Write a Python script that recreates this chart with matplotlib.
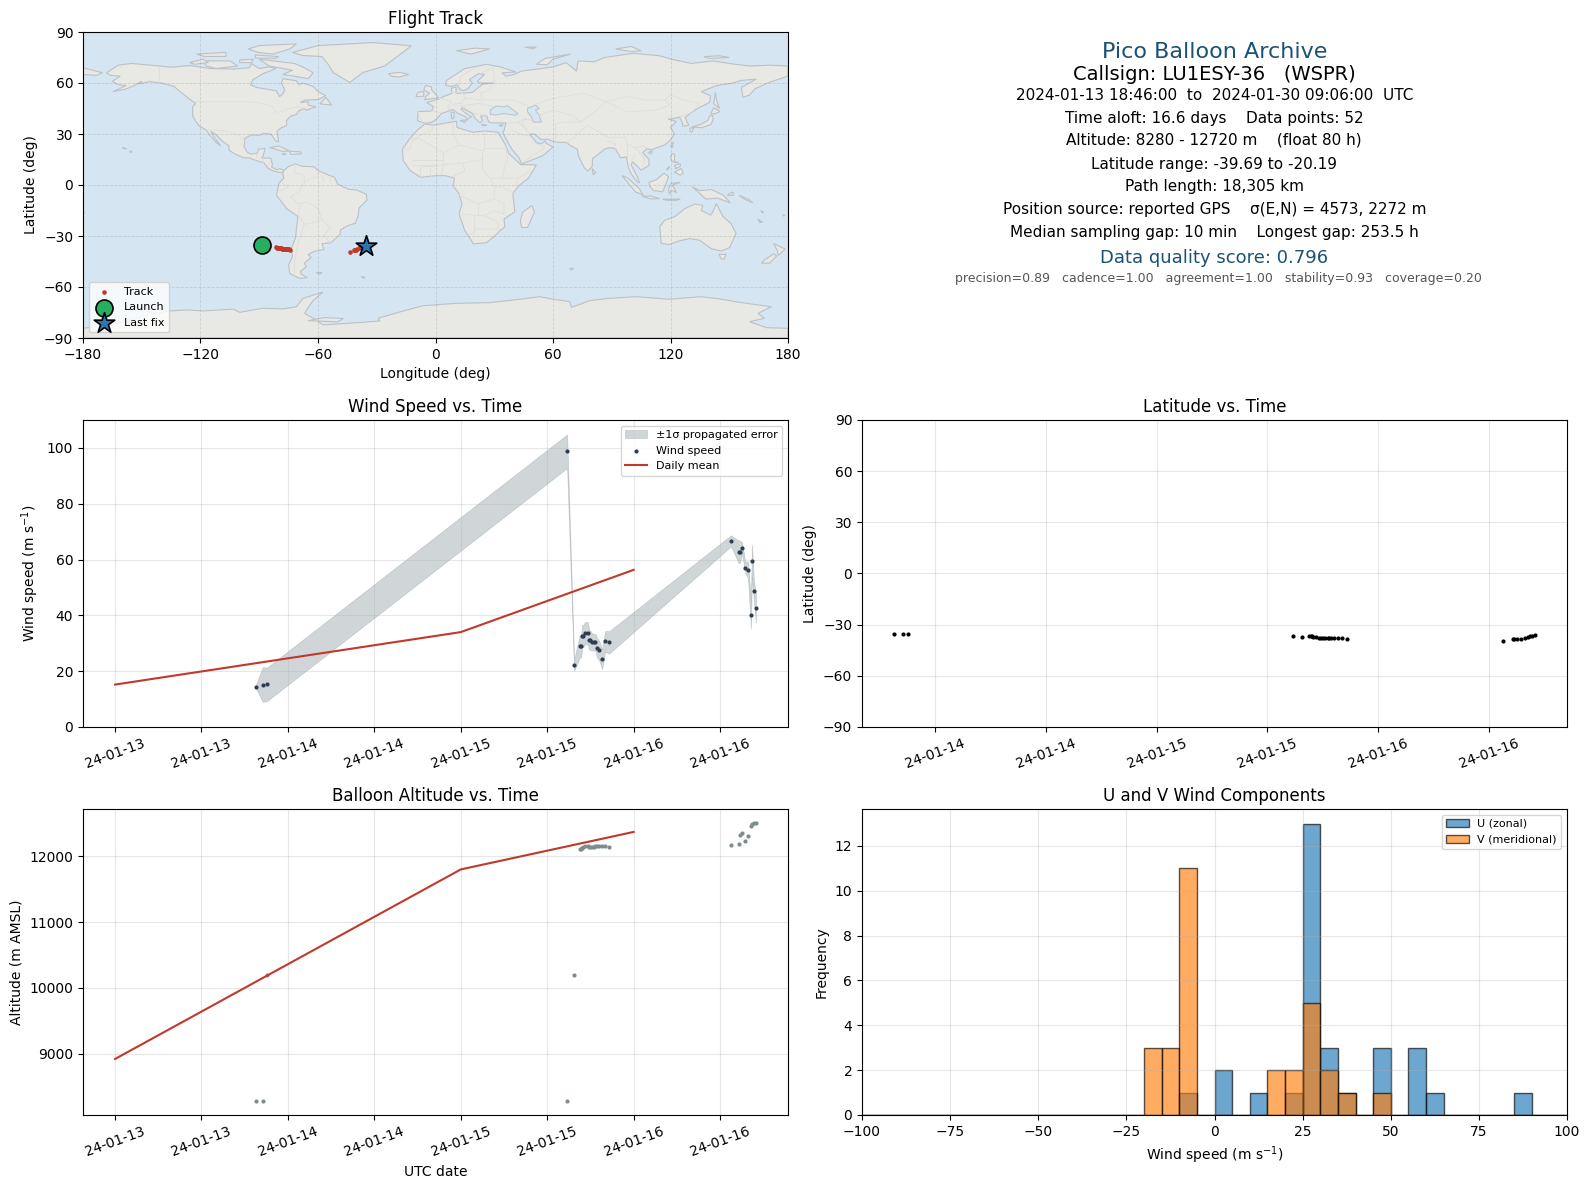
import datetime as dt
import matplotlib
matplotlib.use("Agg")
import matplotlib.pyplot as plt
import matplotlib.dates as mdates
from matplotlib.patches import Polygon

# ---- flight data ----
hours = [19.55, 20.5, 21.1,
         62.77, 63.74, 64.53, 64.72, 64.85, 64.99, 65.27, 65.64, 65.83, 66.0, 66.24, 66.56, 66.7, 66.93, 67.21, 67.63, 68.04, 68.6,
         85.52, 86.58, 86.77, 87.05, 87.51, 87.88, 88.29, 88.43, 88.71, 88.99]
wind = [14.5, 15.2, 15.3,
        98.8, 22.1, 28.9, 28.9, 32.5, 32.6, 33.6, 33.7, 31.2, 31.1, 30.5, 30.3, 30.3, 28.3, 27.5, 24.3, 30.7, 30.3,
        66.7, 62.8, 62.8, 64.2, 57.1, 56.4, 40.3, 59.6, 48.9, 42.5]
wind_err = [0.5, 6.2, 6.0,
            6.0, 2.0, 4.0, 4.0, 4.0, 4.0, 4.0, 4.0, 3.5, 3.5, 3.0, 3.0, 3.0, 3.5, 3.5, 3.6, 3.7, 4.0,
            2.0, 4.0, 4.0, 2.0, 2.0, 3.0, 5.0, 5.8, 3.5, 5.0]
altitude = [8280, 8280, 10200,
            8280, 10200, 12106, 12117, 12127, 12137, 12152, 12152, 12142, 12137, 12140, 12147, 12150, 12150, 12150, 12150, 12150, 12135,
            12177, 12193, 12319, 12360, 12238, 12314, 12456, 12487, 12507, 12507]
lat = [-35.3, -35.5, -35.4,
       -36.4, -37.0, -36.8, -36.8, -36.9, -37.0, -37.2, -37.6, -37.7, -37.8, -37.8, -37.8, -37.8, -37.7, -37.7, -37.7, -37.6, -38.2,
       -39.4, -38.4, -38.4, -38.4, -38.2, -37.8, -37.0, -36.4, -36.4, -35.9]
lon = [-88.8, -87.9, -87.0,
       -81.6, -81.0, -80.2, -79.8, -79.5, -79.1, -78.7, -78.3, -78.0, -77.6, -77.2, -76.8, -76.4, -76.0, -75.7, -75.3, -74.9, -74.2,
       -43.5, -41.5, -41.2, -41.0, -40.6, -40.0, -39.3, -38.6, -37.8, -35.5]

mean_hours = [0, 48, 72]
wind_mean = [15.2, 34.0, 56.3]
alt_mean = [8920, 11800, 12370]

bin_edges = list(range(-100, 105, 5))
u_counts = {-10: 1, 0: 2, 10: 1, 20: 1, 25: 13, 30: 3, 35: 1, 45: 3, 55: 3, 60: 1, 85: 1}
v_counts = {-20: 3, -15: 3, -10: 11, 15: 2, 20: 2, 25: 5, 30: 2, 35: 1, 45: 1}

info_lines = [
    ("Pico Balloon Archive", 16, "#1a5276", 1214.5, 52),
    ("Callsign: LU1ESY-36   (WSPR)", 14, "black", 1214.5, 74),
    ("2024-01-13 18:46:00  to  2024-01-30 09:06:00  UTC", 11, "black", 1214.5, 96),
    ("Time aloft: 16.6 days    Data points: 52", 11, "black", 1214.5, 118),
    ("Altitude: 8280 - 12720 m    (float 80 h)", 11, "black", 1214, 140),
    ("Latitude range: -39.69 to -20.19", 11, "black", 1214, 164),
    ("Path length: 18,305 km", 11, "black", 1214.5, 187),
    ("Position source: reported GPS    σ(E,N) = 4573, 2272 m", 11, "black", 1214.5, 209),
    ("Median sampling gap: 10 min    Longest gap: 253.5 h", 11, "black", 1214.5, 233),
    ("Data quality score: 0.796", 13, "#1a5276", 1214.5, 258),
    ("precision=0.89   cadence=1.00   agreement=1.00   stability=0.93   coverage=0.20", 9, "#555555", 1218.5, 279),
]

# ---- rough world outlines (lon, lat) ----
north_america = [(-168,66),(-162,70.5),(-155.3,71.5),(-141,70),(-135,69.3),(-125.5,70.3),(-115,68.5),(-103.4,68.2),(-95,69),(-94,71.5),(-90,68.5),(-85,69.5),(-81.5,68.5),(-88,65.5),(-93.2,62),(-94.5,59),(-91.5,57.4),(-81.3,55.4),(-79.6,52),(-78,53.5),(-77,56),(-78.7,60),(-77.9,62.5),(-71,61.3),(-69.5,59),(-67.7,60),(-62.5,58),(-60,55),(-56,52.5),(-60,50.2),(-66.5,50),(-69,48.5),(-65,49),(-65,47),(-61,46),(-66,44),(-67,45),(-70,43.5),(-71,41.5),(-74,40.5),(-76,38),(-76,35),(-79,33.5),(-81,31.5),(-80.2,27),(-80.3,25.3),(-81.8,26),(-82.8,28),(-84,30),(-88,30.3),(-90,29.2),(-94,29.5),(-97.3,27.5),(-97.7,22.5),(-96,19),(-94,18.2),(-91,18.7),(-90.5,21),(-87,21.5),(-88,17),(-88.7,15.8),(-84,15.8),(-83.3,12),(-83.7,10.5),(-81,9),(-79.5,9.6),(-77.3,8.6),(-78,7.3),(-80,7.5),(-83,8.3),(-85.7,10),(-87.5,13),(-92,14.5),(-95,16),(-98,16),(-102,18),(-105.5,20.5),(-105.5,23),(-109,26),(-112.5,30),(-114.7,31.5),(-113,28),(-109.7,23),(-112,25),(-115,29),(-117.2,32.5),(-120.5,34.5),(-122.5,37.5),(-124,40.5),(-124,46),(-122.5,48),(-125,50),(-130,54.5),(-133.5,58),(-140,60),(-146,60.8),(-151.5,59.5),(-150,61),(-154,58.5),(-158,56.5),(-164.7,54.9),(-158,58.5),(-162,59),(-165,61),(-161,64),(-166,64.5)]
south_america = [(-77.3,8.6),(-75,11),(-71.5,12.4),(-68,11),(-62,10.7),(-60,8.5),(-55,6),(-51.5,4.5),(-50,0.5),(-44.5,-2.5),(-40,-3),(-35.3,-5.5),(-35,-9),(-39,-13.5),(-39.5,-18),(-41,-22.5),(-45,-24),(-48.5,-26.5),(-48.7,-29),(-53.5,-34),(-58,-34.5),(-57,-38),(-62,-39),(-65,-41),(-63.5,-42.5),(-67,-46),(-66,-48),(-69,-51),(-68.5,-52.5),(-65.5,-54.5),(-69.4,-55),(-74.5,-52),(-75,-47),(-73,-42),(-73.5,-37),(-71.5,-31),(-70.3,-18.5),(-76,-14),(-81.2,-6),(-80.5,-2),(-80,1),(-77.5,4),(-78,7.3)]
africa = [(-5.5,35.9),(-1,35.2),(10.7,37.5),(11,33.8),(19.2,31),(25,31.8),(32,31),(33,29),(35.5,24),(37.5,18.5),(43.5,12),(51.5,11.8),(47.5,4),(43,0),(39.5,-5),(40.5,-15.8),(35,-20),(35.4,-24.6),(32.8,-27),(30.3,-30),(26,-34),(19.2,-34.6),(18,-32),(15,-27),(12,-17),(13.5,-11),(12,-5),(9,-0.5),(9.7,4),(5,5.5),(0,5.5),(-7.5,4.5),(-13,8.5),(-16.5,14.4),(-16.9,21.2),(-13,27.5),(-9.5,32)]
eurasia = [(-9.2,37.8),(-5.5,36.3),(-2,36.8),(0.5,38.8),(3,42),(6,43.2),(8.8,44.4),(11,42.5),(15.5,40),(16,38),(17,39.5),(18.5,40),(16,41.7),(13,44.5),(13.7,45.6),(15,44.5),(19,42),(20,39.5),(22.8,36.5),(24,38),(23,40.5),(26.2,40.8),(26.5,39),(27.5,36.8),(30.5,36.5),(36,36.5),(35,32),(34.3,31.3),(34.9,29.5),(37,25),(39,21),(42.7,16),(43.9,12.6),(45,12.8),(52,16),(55,17.5),(60,22.3),(56.5,24.5),(56,26),(54,24.2),(51.5,24.8),(50.5,26.5),(48,29.8),(50.5,30),(54,26.7),(57,27),(61.5,25.2),(67,25),(68.5,23.5),(72.5,21),(73,17),(76,10),(77.9,8.2),(80,11),(80.2,15.5),(85,19.8),(87,21.5),(90,22),(92,21),(94.5,16),(97.5,16.5),(98.5,10),(100.2,6),(103.3,1.5),(104.2,1.5),(103,5),(99.8,12),(100.8,13.5),(103,11),(105,8.7),(109,11.5),(109,15),(105.8,19),(108,21.5),(110,20.5),(113,22),(117,23.5),(120,26.5),(122,30),(120,34),(123,37.3),(118.7,38.8),(121.5,39),(124.5,40),(126,37),(126.3,34.5),(129.3,35.2),(127.5,39.7),(130.5,42.5),(135,45.7),(140,48.6),(140.5,52.5),(135.7,54.9),(143.4,58.4),(151.9,60),(156,61.5),(163.8,62.3),(156.2,57.4),(157,51.5),(160.5,53),(163,56.5),(170.6,60.5),(177.4,63),(180,64.3),(180,70),(170.6,70.5),(160.4,70),(150,71.5),(141.7,73),(130.6,71.5),(120.4,74),(114.5,76),(100.9,77.5),(86.4,75),(81.3,72.5),(72.8,73),(72,67),(66.8,72),(60,69.5),(54,68.5),(44,67),(40,65),(36,64),(34,66),(41,66.5),(33,69.5),(26,71),(15,68.5),(5.6,61.5),(5,58.8),(8,58),(11,59),(12.7,56),(14.3,55.5),(16.5,56.5),(18.8,60),(17.3,62),(22,65.5),(25,65),(21.3,61),(23,60),(30,60),(24,59.3),(21,56.5),(19,54.5),(14,54),(10.5,54),(10.5,57.5),(8,57),(8.5,54),(4,52),(1.5,50.5),(-1.5,49.5),(-4.5,48.5),(-1,46),(-2,43.5),(-8.9,43.2)]
australia = [(114.5,-24.6),(115.3,-34.4),(119.6,-35),(124,-33),(129.8,-31.5),(134.9,-32.5),(137.4,-34.6),(140.9,-37.5),(146,-38.8),(150.2,-36.8),(153.5,-28.5),(151,-22.8),(146.8,-18.5),(143.4,-11),(141.5,-16),(140.5,-17.7),(135.7,-15),(136.6,-12),(132.3,-11.2),(127.2,-14),(122.1,-18.7),(117,-20.7)]
antarctica = [(-180,-90),(-180,-84.3),(-160,-81),(-150,-77.5),(-136,-74.1),(-127,-73.5),(-119,-74.1),(-103.4,-73),(-100,-74.9),(-88,-72.5),(-78,-72.9),(-71,-71.6),(-67.7,-66.7),(-57.5,-63),(-62.5,-68),(-65,-72),(-66.8,-75.5),(-61,-79.4),(-57.4,-82.3),(-44,-81.3),(-28.5,-80),(-29.3,-78.4),(-16.5,-74.1),(-6.3,-71),(10.7,-69.6),(27.7,-69.2),(44.7,-67),(53.2,-65.7),(60,-67.2),(68.5,-68.6),(69.4,-71.9),(72.8,-70.6),(78.7,-68),(88,-66.7),(102.6,-65.7),(119.6,-67.2),(135.7,-65.7),(145,-67),(155,-69),(171.5,-71.6),(164.7,-75.5),(168,-78.4),(160.4,-80.4),(169,-83.9),(180,-84.3),(180,-90)]
greenland = [(-73,78),(-60,82),(-32,83.8),(-12.3,81.9),(-19,76),(-26,70),(-37,66.2),(-43.8,60.3),(-52.3,66.2),(-54.8,71),(-58,75.5),(-68,76.2)]
islands = [
    [(-180,65),(-173,64.5),(-170,66),(-175,67.5),(-180,69)],
    [(-90,74),(-72,71.5),(-67,69),(-62.5,66),(-65,62.5),(-72,64),(-78,65),(-73,67.5),(-85,70)],
    [(-118.7,73),(-105,73),(-101,70),(-112,68.5),(-117,70)],
    [(-95.7,80),(-90,82),(-71,83),(-74.5,80),(-83,77),(-90.6,78)],
    [(-125.5,72),(-118.7,74),(-116,72),(-123,71)],
    [(-122,77),(-107,78),(-107,75.6),(-118,75.6)],
    [(-92,76.5),(-80,75.5),(-82,74.5),(-92,74.7)],
    [(-100,73.5),(-93,74),(-94,72),(-100,72)],
    [(-59,47.7),(-56,51.5),(-53,47)],
    [(-84.7,22),(-80,23),(-74.5,20),(-78,19.8)],
    [(-74.5,19.8),(-69,19.5),(-68.5,18.3),(-74,18)],
    [(-78.3,18.4),(-76.3,18.2),(-77,17.8)],
    [(-156,20),(-155,19.5),(-155.8,19)],
    [(-160,22),(-157.7,21.4),(-158.2,21.2)],
    [(-5.5,50.2),(1.5,51.3),(0,53.5),(-2,56),(-2,57.7),(-5,58.6),(-6,56),(-3,54),(-5,52)],
    [(-10,52),(-6,52.2),(-6,55),(-9,54.5)],
    [(-24,65.5),(-18,66.3),(-13.7,65),(-18.5,63.5),(-22.7,64)],
    [(10.7,79),(20,80.5),(27.7,80),(18,77)],
    [(45.6,81),(51.5,81.2),(50,80.3)],
    [(51.5,71),(56,74.5),(69,77),(60,74),(57,70.7)],
    [(92,80),(100,81.5),(105,79),(100,78.5)],
    [(137,75.5),(145,76),(150,75),(140,74.5)],
    [(143,54.5),(143.5,50),(145,45),(142,48)],
    [(140.5,41.8),(142,45.3),(145.3,43.3),(143,42)],
    [(130.9,34),(135.5,35.7),(139,38),(140,40.5),(141.5,41),(141.8,38.5),(140.5,35.5),(136,33.7),(132.5,34)],
    [(130,33.5),(131.8,33.5),(131,31),(130,31.5)],
    [(120,23),(121.5,25.2),(121,22)],
    [(108.7,19.2),(110.7,20),(110,18.3)],
    [(120,16),(120.8,18.5),(122.2,18),(122,14),(124,13),(121,13.7)],
    [(122,7.5),(125.5,9.7),(126.5,7),(125,5.8)],
    [(118,9),(119.5,11),(118.5,9)],
    [(122,11.5),(123,10),(122.5,9.5),(125,11),(125,12.5)],
    [(95.3,5.5),(98,4.2),(104,-2),(106,-5.8),(102,-4),(98.5,1)],
    [(105.3,-6.5),(110,-6.5),(114.5,-8),(110,-8.2)],
    [(116,-8.4),(119,-8.3),(125,-8.3),(123,-9),(118,-9)],
    [(109,1.5),(113,3.3),(116.7,7),(119,5),(117.8,1),(116,-4),(111.5,-3.3),(109.5,-1)],
    [(119.5,-5.5),(119,-2),(120.5,1),(125,1.5),(121,0),(123,-4.5),(120.5,-3)],
    [(131,-1),(135,-3.3),(141,-2.7),(147,-6),(150.5,-10.5),(144,-7.7),(138,-8.3),(134,-4)],
    [(150,-5),(152,-4.2),(152,-6),(149,-6.2)],
    [(155,-6),(160,-8.5),(162,-10.5),(158,-8.5)],
    [(166,-15),(167.5,-16),(167,-16.5)],
    [(164.7,-20),(167,-22),(165.5,-22)],
    [(177.5,-17.5),(178.5,-18),(177.5,-18.2)],
    [(80,9.7),(81.8,7.3),(80.5,6)],
    [(49.3,-12),(50.5,-16),(47,-25),(44,-25),(43.3,-21),(44.5,-16)],
    [(144.7,-40.8),(148.3,-40.8),(147.5,-43.5),(146,-43.5)],
    [(172.7,-34.5),(178.5,-37.7),(175,-41.5),(174.5,-38.5)],
    [(172.7,-40.5),(174.2,-41.8),(170.5,-46),(166.5,-46),(168,-44)],
    [(-61,-51.5),(-58,-51.5),(-59,-52.4)],
    [(-38,-54),(-36,-54.2),(-36.5,-54.8)],
    [(68.5,-49),(70.5,-49),(69.5,-50)],
    [(-65,-79.8),(-57,-78),(-47,-78.5),(-50,-80.5)],
    [(-180,-16.5),(-179,-16),(-180,-17)],
    [(8,43),(9.5,42.5),(9.3,39),(8.3,39)],
    [(12.5,38),(15.5,38.2),(15,36.7)],
    [(23.5,35.5),(26.3,35.2),(24.8,34.9)],
    [(32.3,35),(34.5,35.6),(33.8,34.6)],
]
lakes = [
    [(47,45),(51,47),(53,45),(51,44),(53,41),(54,37),(50,37),(49,40),(47,43)],
    [(28,41.5),(28,44),(31,46.5),(34,46),(37,46.5),(42,42),(41,41),(35,42),(31,41.2)],
]
borders = [
    [(-141,69.7),(-141,60)], [(-123,49),(-95,49),(-88,48),(-83,46),(-82,43),(-79,43),(-75,45),(-70,46),(-67,45)],
    [(-117,32.5),(-106,31.7),(-101,29.5),(-97.3,26)], [(-92,14.5),(-91,18)], [(-88,15.8),(-88,13)], [(-84,15),(-85.7,11)],
    [(-72,12),(-72,7),(-67,6),(-67,1),(-70,-4),(-74,-7),(-70,-11),(-65,-10),(-60,-14),(-58,-20),(-54,-25),(-57,-30),(-53.5,-34)],
    [(-60,8.5),(-60,5),(-64,4),(-67,1)], [(-58,6),(-57,2)], [(-54,5.5),(-54,2)], [(-78,1),(-75,-1),(-78,-3),(-80.5,-3.5)],
    [(-70,-18),(-69,-11)], [(-70,-18),(-67,-23),(-70,-33),(-72,-45),(-72,-52)], [(-67,-23),(-62,-22),(-58,-20)],
    [(-9,43),(-7,37)], [(-2,43.5),(3,42.5)], [(2,51),(8,49),(7.5,47.5),(6,46),(7.5,44)], [(8,54.8),(14,54)], [(14,54),(15,51),(24,50),(23,54),(28,56),(28,60)],
    [(15,51),(13,48),(9,47.5)], [(13,46.5),(22,48),(30,46)], [(24,50),(40,50),(48,46)], [(13,46.5),(20,42),(26,41)], [(12,59),(13,64),(20,69)], [(24,66),(29,69)], [(30,60),(30,65),(29,69)],
    [(36,36.5),(42,37),(45,39),(49,38)], [(42,37),(46,33),(48,30)], [(39,32),(46,29),(48,29)], [(44,13),(52,19),(56,22),(52,24)], [(46,39),(44,37),(46,33)], [(61,36),(61,25)], [(61,36),(66,37),(74,37)], [(67,25),(71,28),(74,32),(78,35)], [(74,37),(80,42),(87,49)],
    [(53,41),(60,44),(70,41),(74,37)], [(50,47),(60,51),(76,54),(87,49)], [(87,49),(98,52),(107,50),(117,50),(120,53),(127,50),(135,48),(131,43)], [(87,49),(98,43),(112,44),(120,47),(117,50)], [(78,35),(88,28),(97,28),(98,24),(102,22),(106,23),(108,21.5)],
    [(88,26),(92,24),(92,21)], [(98,24),(98,16)], [(102,22),(105,18),(107,15),(106,11)], [(100,14),(102,18)], [(125,40),(130.5,42.5)],
    [(-13,27.5),(-8.7,27.5),(-8.7,29),(-2,32),(-1,35)], [(-17,21),(-13,21),(-12,26),(-8.7,27.5)], [(-8.7,27.5),(4,19),(12,23.5),(25,20),(25,31.8)], [(9,37),(9,30),(12,23.5)],
    [(25,22),(36,22)], [(24,20),(24,9),(28,4),(34,4),(42,4),(48,8)], [(24,15),(14,13),(4,12),(4,19)], [(14,13),(15,8),(9,5)], [(4,12),(3,6)], [(-12,15),(-5,15),(4,15)], [(-8,11),(-3,11),(1,11)],[(-8,4.5),(-8,11)], [(-3,5),(-3,11)], [(37,12),(36,22)], [(34,4),(36,14)], [(42,4),(41,-2)], [(30,-1),(34,-1),(40,-5)],
    [(28,4),(30,-1),(30,-8),(22,-11),(12,-6)], [(22,-11),(22,-18),(12,-17)], [(20,-18),(20,-28),(17,-29)], [(30,-8),(35,-11),(35,-17),(30,-15),(25,-18),(20,-18)], [(25,-18),(32,-22),(32,-26),(25,-26),(20,-26)], [(3,12),(-12,12)],
]

LAND = "#e8e8e4"
OCEAN = "#d5e6f2"
COAST = "#bcc1c5"
W, H = 1590, 1189


def place(left, right, top, bottom):
    return [left / W, 1 - bottom / H, (right - left) / W, (bottom - top) / H]


start = dt.datetime(2024, 1, 13)
times = [start + dt.timedelta(hours=h) for h in hours]
mean_times = [start + dt.timedelta(hours=h) for h in mean_hours]
wind_lo = [w - e for w, e in zip(wind, wind_err)]
wind_hi = [w + e for w, e in zip(wind, wind_err)]

fig = plt.figure(figsize=(15.9, 11.89), dpi=100)
ax_map = fig.add_axes(place(83, 788, 32, 338))
ax_info = fig.add_axes(place(862, 1567, 32, 338))
ax_wind = fig.add_axes(place(83, 788, 420, 727))
ax_lat = fig.add_axes(place(862, 1567, 420, 727))
ax_alt = fig.add_axes(place(83, 788, 809, 1115))
ax_hist = fig.add_axes(place(862, 1567, 809, 1115))

# map
ax_map.set_facecolor(OCEAN)
for shape in [north_america, south_america, africa, eurasia, australia, antarctica, greenland] + islands:
    ax_map.add_patch(Polygon(shape, closed=True, facecolor=LAND, edgecolor=COAST, linewidth=0.8, zorder=1))
for shape in lakes:
    ax_map.add_patch(Polygon(shape, closed=True, facecolor=OCEAN, edgecolor=COAST, linewidth=0.7, zorder=1.1))
for line in borders:
    ax_map.plot([p[0] for p in line], [p[1] for p in line], color="#dddedb", lw=0.6, zorder=1.2)
ax_map.scatter(lon, lat, s=11, color="#c0392b", linewidths=0, label="Track", zorder=3)
ax_map.scatter(lon[0], lat[0], s=150, color="#27ae60", edgecolor="black", linewidth=1.2, label="Launch", zorder=4)
ax_map.scatter(lon[-1], lat[-1], s=240, marker="*", color="#2878b5", edgecolor="black", linewidth=1.2, label="Last fix", zorder=5)
ax_map.set_xlim(-180, 180)
ax_map.set_ylim(-90, 90)
ax_map.set_xticks(range(-180, 181, 60))
ax_map.set_yticks(range(-90, 91, 30))
ax_map.grid(True, color="gray", alpha=0.25, linestyle="--", linewidth=0.6)
ax_map.set_xlabel("Longitude (deg)")
ax_map.set_ylabel("Latitude (deg)")
ax_map.set_title("Flight Track")
ax_map.legend(loc="lower left", fontsize=8)

# summary text
ax_info.axis("off")
for text, size, color, x, y in info_lines:
    fig.text(x / W, 1 - y / H, text, fontsize=size, color=color, ha="center", va="center")

# wind speed
ax_wind.fill_between(times, wind_lo, wind_hi, color="#7b8a90", alpha=0.35, linewidth=0.5, label="±1σ propagated error")
ax_wind.scatter(times, wind, s=9, color="#2c3e50", linewidths=0, label="Wind speed", zorder=3)
ax_wind.plot(mean_times, wind_mean, color="#c0392b", lw=1.5, label="Daily mean")
ax_wind.set_ylim(0, 110)
ax_wind.set_ylabel("Wind speed (m s$^{-1}$)")
ax_wind.set_title("Wind Speed vs. Time")
ax_wind.legend(loc="upper right", fontsize=8)

# latitude
ax_lat.scatter(times, lat, s=9, color="black", linewidths=0)
ax_lat.set_ylim(-90, 90)
ax_lat.set_yticks(range(-90, 91, 30))
ax_lat.set_ylabel("Latitude (deg)")
ax_lat.set_title("Latitude vs. Time")

# altitude
ax_alt.scatter(times, altitude, s=9, color="#7f8c8d", linewidths=0)
ax_alt.plot(mean_times, alt_mean, color="#c0392b", lw=1.5)
ax_alt.set_ylabel("Altitude (m AMSL)")
ax_alt.set_xlabel("UTC date")
ax_alt.set_title("Balloon Altitude vs. Time")

for ax in [ax_wind, ax_lat, ax_alt]:
    ax.xaxis.set_major_locator(mdates.HourLocator(byhour=[0, 12]))
    ax.xaxis.set_major_formatter(mdates.DateFormatter("%y-%m-%d"))
    ax.tick_params(axis="x", labelrotation=20)
    ax.grid(True, alpha=0.3)

# histogram of U and V
u_bins = list(u_counts.keys())
v_bins = list(v_counts.keys())
ax_hist.hist([b + 2.5 for b in u_bins], bins=bin_edges, weights=list(u_counts.values()),
             color="tab:blue", alpha=0.65, edgecolor="black", label="U (zonal)")
ax_hist.hist([b + 2.5 for b in v_bins], bins=bin_edges, weights=list(v_counts.values()),
             color="tab:orange", alpha=0.65, edgecolor="black", label="V (meridional)")
ax_hist.set_xlim(-100, 100)
ax_hist.set_xlabel("Wind speed (m s$^{-1}$)")
ax_hist.set_ylabel("Frequency")
ax_hist.set_title("U and V Wind Components")
ax_hist.grid(True, alpha=0.3)
ax_hist.legend(loc="upper right", fontsize=8)

fig.savefig("out.png", dpi=100)
